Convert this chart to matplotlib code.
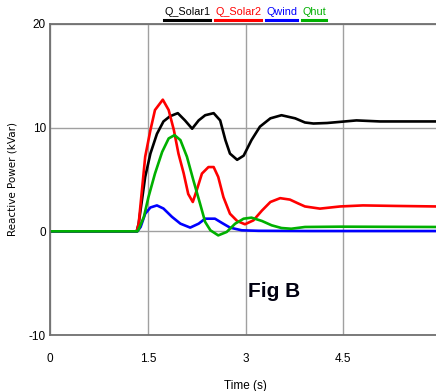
import matplotlib
matplotlib.use('Agg')
import matplotlib.pyplot as plt
from matplotlib.lines import Line2D

plt.rcParams['font.family'] = ['Liberation Sans', 'DejaVu Sans']
plt.rcParams['axes.unicode_minus'] = False

# time (s) and reactive power (kVar)
t_solar1 = [0, 1.33, 1.36, 1.41, 1.46, 1.54, 1.64, 1.74, 1.84, 1.96, 2.07, 2.18, 2.28, 2.38, 2.51, 2.61, 2.69,
            2.76, 2.87, 2.97, 3.09, 3.22, 3.38, 3.55, 3.76, 3.91, 4.04, 4.25, 4.45, 4.70, 5.06, 5.5, 5.92]
q_solar1 = [0, 0, 0.74, 3.0, 5.25, 7.5, 9.4, 10.6, 11.1, 11.4, 10.7, 9.9, 10.7, 11.2, 11.4, 10.7, 8.8,
            7.5, 6.9, 7.3, 8.8, 10.1, 10.9, 11.2, 10.9, 10.5, 10.4, 10.45, 10.56, 10.7, 10.6, 10.6, 10.6]

t_solar2 = [0, 1.33, 1.36, 1.41, 1.46, 1.54, 1.61, 1.73, 1.82, 1.90, 1.97, 2.05, 2.12, 2.19, 2.25, 2.33, 2.43,
            2.51, 2.58, 2.66, 2.76, 2.87, 2.99, 3.12, 3.25, 3.38, 3.53, 3.68, 3.81, 3.91, 4.14, 4.45, 4.80, 5.3, 5.92]
q_solar2 = [0, 0, 0.74, 3.96, 7.2, 9.76, 11.7, 12.7, 11.7, 9.76, 7.5, 5.6, 3.6, 2.83, 3.96, 5.57, 6.2,
            6.2, 5.25, 3.3, 1.7, 1.0, 0.68, 1.06, 2.0, 2.83, 3.2, 3.06, 2.68, 2.4, 2.19, 2.4, 2.5, 2.45, 2.4]

t_wind = [0, 1.34, 1.39, 1.46, 1.54, 1.64, 1.74, 1.87, 2.00, 2.15, 2.28, 2.38, 2.53, 2.64, 2.76, 2.94, 3.2, 4.0, 5.92]
q_wind = [0, 0, 0.42, 1.7, 2.3, 2.5, 2.2, 1.4, 0.74, 0.36, 0.74, 1.22, 1.22, 0.8, 0.36, 0.1, 0.05, 0.03, 0.03]

t_hut = [0, 1.34, 1.36, 1.44, 1.51, 1.61, 1.72, 1.82, 1.91, 2.00, 2.10, 2.20, 2.30, 2.38, 2.46, 2.58, 2.71,
         2.84, 2.97, 3.09, 3.25, 3.40, 3.55, 3.70, 3.91, 4.45, 5.92]
q_hut = [0, 0, 0.2, 1.4, 3.3, 5.57, 7.66, 8.96, 9.28, 8.8, 7.2, 4.9, 2.7, 0.9, 0.1, -0.39, -0.06,
         0.74, 1.22, 1.32, 1.0, 0.58, 0.32, 0.25, 0.42, 0.45, 0.42]

series = [
    ('Q_Solar1', t_solar1, q_solar1, '#000000'),
    ('Q_Solar2', t_solar2, q_solar2, '#ff0000'),
    ('Qwind', t_wind, q_wind, '#0000ff'),
    ('Qhut', t_hut, q_hut, '#00b000'),
]
x_ticks = [0, 1.5, 3, 4.5]
y_ticks = [-10, 0, 10, 20]

fig = plt.figure(figsize=(4.36, 3.91), dpi=100)
ax = fig.add_axes([50 / 436, 56 / 391, 1 - 50 / 436, 311 / 391])

for name, t, q, c in series:
    ax.plot(t, q, color=c, lw=1.9, solid_joinstyle='round', solid_capstyle='round')

ax.set_xlim(0, 5.92)
ax.set_ylim(-10, 20)
ax.set_xticks(x_ticks)
ax.set_xticklabels(['0', '1.5', '3', '4.5'])
ax.set_yticks(y_ticks)
ax.grid(True, color='#a0a0a0', lw=1)
ax.tick_params(length=0, labelsize=8.5, colors='#000000')
ax.tick_params(axis='x', pad=13)
ax.tick_params(axis='y', pad=3)
for s in ['left', 'bottom', 'top']:
    ax.spines[s].set_color('#707070')
    ax.spines[s].set_linewidth(1.3)
ax.spines['right'].set_visible(False)

ax.set_xlabel('Time (s)', fontsize=8.5)
ax.xaxis.set_label_coords((245 - 50) / 386, -(380 - 335) / 311)
ax.set_ylabel('Reactive Power (kVar)', fontsize=7.5, family=['DejaVu Sans'])
ax.yaxis.set_label_coords((18 - 50) / 386, 0.5)

ax.text(3.04, -6.3, 'Fig B', fontsize=15, fontweight='bold', color='#000010')

# legend: coloured names with underline
fig.canvas.draw()
renderer = fig.canvas.get_renderer()
x = 164
for name, t, q, c in series:
    txt = fig.text(x / 436, 1 - 12 / 391, name, color=c, fontsize=7.8, va='center', ha='left')
    bb = txt.get_window_extent(renderer)
    fig.add_artist(Line2D([bb.x0 / 436, bb.x1 / 436], [1 - 19.5 / 391] * 2, color=c, lw=2.2,
                          transform=fig.transFigure))
    x = bb.x1 + 5

fig.savefig('out.png', dpi=100)
